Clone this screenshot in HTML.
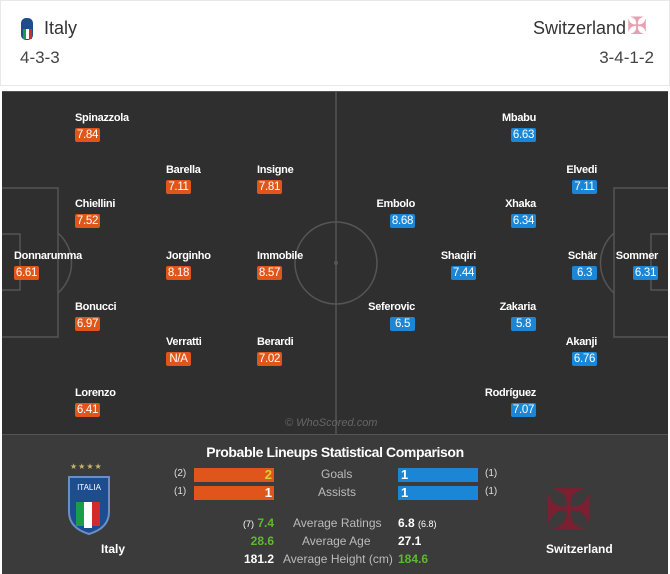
<!DOCTYPE html>
<html><head><meta charset="utf-8"><style>
*{margin:0;padding:0;box-sizing:border-box}
body{width:670px;height:574px;background:#fff;position:relative;overflow:hidden;font-family:"Liberation Sans",sans-serif}
.a{position:absolute;white-space:nowrap}
.n{position:absolute;color:#fff;font-weight:bold;font-size:11px;letter-spacing:-0.3px;line-height:13px}
.b{position:absolute;width:25px;height:14px;border-radius:2px;color:#fff;font-size:11.5px;line-height:14px;text-align:center;letter-spacing:-0.3px}
.o{background:#e0561a}.u{background:#1b86d6}
.g{color:#bbb;font-size:12px}
</style></head><body>
<div class="a" style="left:0;top:0;width:670px;height:86px;border:1px solid #e8e8e8;background:#fff"></div>
<svg class="a" style="left:20px;top:14px" width="14" height="30"><g><rect x="1" y="4" width="12" height="22" rx="5" fill="#1d4c8f"/><rect x="3" y="15" width="3" height="10" fill="#1a9c4a"/><rect x="6" y="15" width="3" height="10" fill="#fff"/><rect x="9" y="15" width="3" height="10" fill="#d42a2a"/></g></svg>
<div class="a" style="left:44px;top:18px;font-size:18px;color:#333">Italy</div>
<div class="a" style="left:20px;top:48px;font-size:17px;color:#444">4-3-3</div>
<div class="a" style="right:44px;top:18px;font-size:18px;color:#333">Switzerland</div>
<div class="a" style="left:627px;top:12px;font-size:24px;line-height:30px;color:#e7a0b0">✠</div>
<div class="a" style="right:16px;top:48px;font-size:17px;color:#444">3-4-1-2</div>

<svg class="a" style="left:2px;top:91px" width="666" height="343">
<rect width="666" height="343" fill="#2f2f2f"/>
<line x1="0" y1="0.5" x2="666" y2="0.5" stroke="#555"/>
<g stroke="#555" stroke-width="1.5" fill="none">
<line x1="334" y1="0" x2="334" y2="343"/>
<circle cx="334" cy="172" r="41"/>
<rect x="-2" y="97" width="58" height="149"/>
<rect x="-2" y="143" width="20" height="56"/>
<path d="M56 142 A40 40 0 0 1 56 202"/>
<rect x="612" y="97" width="58" height="149"/>
<rect x="649" y="143" width="20" height="56"/>
<path d="M612 142 A40 40 0 0 0 612 202"/>
</g>
<circle cx="334" cy="172" r="2" fill="#555"/>
</svg>

<div class="n" style="left:75px;top:112px">Spinazzola</div><div class="b o" style="left:75px;top:128px">7.84</div>
<div class="n" style="left:166px;top:164px">Barella</div><div class="b o" style="left:166px;top:180px">7.11</div>
<div class="n" style="left:257px;top:164px">Insigne</div><div class="b o" style="left:257px;top:180px">7.81</div>
<div class="n" style="left:75px;top:198px">Chiellini</div><div class="b o" style="left:75px;top:214px">7.52</div>
<div class="n" style="left:14px;top:250px">Donnarumma</div><div class="b o" style="left:14px;top:266px">6.61</div>
<div class="n" style="left:166px;top:250px">Jorginho</div><div class="b o" style="left:166px;top:266px">8.18</div>
<div class="n" style="left:257px;top:250px">Immobile</div><div class="b o" style="left:257px;top:266px">8.57</div>
<div class="n" style="left:75px;top:301px">Bonucci</div><div class="b o" style="left:75px;top:317px">6.97</div>
<div class="n" style="left:166px;top:336px">Verratti</div><div class="b o" style="left:166px;top:352px">N/A</div>
<div class="n" style="left:257px;top:336px">Berardi</div><div class="b o" style="left:257px;top:352px">7.02</div>
<div class="n" style="left:75px;top:387px">Lorenzo</div><div class="b o" style="left:75px;top:403px">6.41</div>

<div class="n" style="right:134px;top:112px">Mbabu</div><div class="b u" style="left:511px;top:128px">6.63</div>
<div class="n" style="right:73px;top:164px">Elvedi</div><div class="b u" style="left:572px;top:180px">7.11</div>
<div class="n" style="right:255px;top:198px">Embolo</div><div class="b u" style="left:390px;top:214px">8.68</div>
<div class="n" style="right:134px;top:198px">Xhaka</div><div class="b u" style="left:511px;top:214px">6.34</div>
<div class="n" style="right:194px;top:250px">Shaqiri</div><div class="b u" style="left:451px;top:266px">7.44</div>
<div class="n" style="right:73px;top:250px">Schär</div><div class="b u" style="left:572px;top:266px">6.3</div>
<div class="n" style="right:12px;top:250px">Sommer</div><div class="b u" style="left:633px;top:266px">6.31</div>
<div class="n" style="right:255px;top:301px">Seferovic</div><div class="b u" style="left:390px;top:317px">6.5</div>
<div class="n" style="right:134px;top:301px">Zakaria</div><div class="b u" style="left:511px;top:317px">5.8</div>
<div class="n" style="right:73px;top:336px">Akanji</div><div class="b u" style="left:572px;top:352px">6.76</div>
<div class="n" style="right:134px;top:387px">Rodríguez</div><div class="b u" style="left:511px;top:403px">7.07</div>
<div class="a" style="left:285px;top:417px;font-size:11px;font-style:italic;color:#666">© WhoScored.com</div>

<div class="a" style="left:2px;top:434px;width:666px;height:140px;background:#3b3b3b;border-top:1px solid #555"></div>
<div class="a" style="left:0;top:444px;width:670px;text-align:center;color:#fff;font-weight:bold;font-size:14px;letter-spacing:-0.4px">Probable Lineups Statistical Comparison</div>
<div class="a" style="left:70px;top:462px;color:#c9b56a;font-size:8px;letter-spacing:1px">★★★★</div>
<svg class="a" style="left:66px;top:474px" width="46" height="62"><path d="M3 3 H43 V38 Q43 54 23 60 Q3 54 3 38Z" fill="#1d4c8f" stroke="#6b8fc5" stroke-width="2"/><rect x="10" y="28" width="8" height="24" fill="#1a9c4a"/><rect x="18" y="28" width="8" height="26" fill="#fff"/><rect x="26" y="28" width="8" height="24" fill="#d42a2a"/><text x="23" y="16" fill="#fff" font-size="8" text-anchor="middle" font-family="Liberation Sans">ITALIA</text></svg>
<div class="a" style="left:101px;top:542px;color:#fff;font-weight:bold;font-size:12px">Italy</div>
<div class="a" style="left:545px;top:480px;color:#7a2030;font-size:56px;line-height:60px">✠</div>
<div class="a" style="left:546px;top:542px;color:#fff;font-weight:bold;font-size:12px">Switzerland</div>

<div class="a" style="left:174px;top:468px;color:#ddd;font-size:10px">(2)</div>
<div class="a" style="left:194px;top:468px;width:80px;height:14px;background:#e0561a;color:#d8d030;font-weight:bold;font-size:13px;text-align:right;padding-right:2px;line-height:14px">2</div>
<div class="a g" style="left:321px;top:467px">Goals</div>
<div class="a" style="left:398px;top:468px;width:80px;height:14px;background:#1b86d6;color:#fff;font-weight:bold;font-size:13px;padding-left:3px;line-height:14px">1</div>
<div class="a" style="left:485px;top:468px;color:#ddd;font-size:10px">(1)</div>
<div class="a" style="left:174px;top:486px;color:#ddd;font-size:10px">(1)</div>
<div class="a" style="left:194px;top:486px;width:80px;height:14px;background:#e0561a;color:#fff;font-weight:bold;font-size:13px;text-align:right;padding-right:2px;line-height:14px">1</div>
<div class="a g" style="left:318px;top:485px">Assists</div>
<div class="a" style="left:398px;top:486px;width:80px;height:14px;background:#1b86d6;color:#fff;font-weight:bold;font-size:13px;padding-left:3px;line-height:14px">1</div>
<div class="a" style="left:485px;top:486px;color:#ddd;font-size:10px">(1)</div>

<div class="a" style="right:396px;top:516px;font-size:12px;font-weight:bold;color:#fff"><span style="font-size:9px;font-weight:normal">(7)</span> <span style="color:#5fb930">7.4</span></div>
<div class="a g" style="left:293px;top:516px">Average Ratings</div>
<div class="a" style="left:398px;top:516px;font-size:12px;font-weight:bold;color:#fff">6.8 <span style="font-size:9px;font-weight:normal">(6.8)</span></div>
<div class="a" style="right:396px;top:534px;font-size:12px;font-weight:bold;color:#5fb930">28.6</div>
<div class="a g" style="left:302px;top:534px">Average Age</div>
<div class="a" style="left:398px;top:534px;font-size:12px;font-weight:bold;color:#fff">27.1</div>
<div class="a" style="right:396px;top:552px;font-size:12px;font-weight:bold;color:#fff">181.2</div>
<div class="a g" style="left:283px;top:552px">Average Height (cm)</div>
<div class="a" style="left:398px;top:552px;font-size:12px;font-weight:bold;color:#5fb930">184.6</div>
</body></html>
